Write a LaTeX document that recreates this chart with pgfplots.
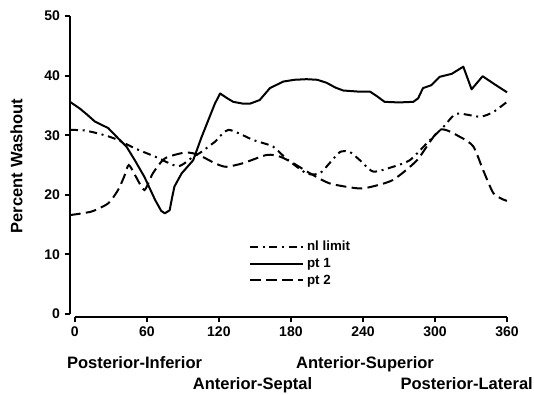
\documentclass[border=0pt]{standalone}
\usepackage{fontspec}
\setmainfont{Liberation Sans}
\usepackage{pgfplots}
\pgfplotsset{compat=1.18}
\begin{document}
\begin{tikzpicture}
\begin{axis}[
  at={(0,0)}, anchor=south west,
  scale only axis,
  width=327.75pt, height=225.75pt,
  xmin=-4, xmax=360, ymin=-0.5, ymax=50,
  axis lines=left,
  axis line style={draw=none},
  every axis plot/.append style={line width=1.5pt},
  xtick={0,60,120,180,240,300,360},
  ytick={0,10,20,30,40,50},
  tick align=outside,
  major tick length=4pt,
  tick style={line width=1.5pt, black},
  /pgf/number format/assume math mode=true,
  ticklabel style={font=\bfseries\fontsize{10.5}{12}\selectfont},
  clip=false,
  legend style={at={(0.40,0.27)}, anchor=north west, draw=none, fill=none,
    font=\bfseries\fontsize{10}{11}\selectfont, row sep=0pt,
    /tikz/every even column/.append style={column sep=6pt}},
  legend cell align=left,
  legend image code/.code={\draw[#1] (0pt,0pt) -- (40pt,0pt);},
]
\draw[line width=2.2pt] (axis cs:-4,0) -- (axis cs:-4,50);
\draw[line width=2.2pt] (axis cs:0,-0.5) -- (axis cs:360,-0.5);
\addplot[black, smooth, tension=0.4, dash pattern=on 6pt off 3.5pt on 1.5pt off 3.5pt] coordinates {
(-4,30.9) (8,30.8) (19.4,30.3) (28,29.8) (36,29.2) (50,27.8) (67,26.4) (86,24.8) (98.6,26.4) (104,27.0) (116.7,28.9) (128,30.9) (148.6,29.2) (165,28.1) (176,26.1) (193,23.6) (204,23.6) (213,25.5) (221,27.2) (229,27.2) (237.5,25.8) (248.6,23.9) (265,24.7) (279,25.8) (293,28.6) (307,31.4) (318,33.6) (337.5,33.1) (348.6,33.9) (360,35.6)
};
\addlegendentry{nl limit}
\addplot[black, line join=round] coordinates {
(-4,35.6) (4,34.5) (10,33.5) (16.7,32.3) (27.8,31.2) (36,29.5) (43,28.1) (50,25.8) (58,23.0) (67,19.1) (72,17.3) (75,16.9) (79,17.4) (81,19.5) (83,21.4) (89,23.6) (98.6,25.8) (105.6,29.7) (116.7,35.3) (121,37.0) (127,36.2) (132,35.6) (140,35.3) (146,35.3) (154,35.9) (162.5,37.9) (173.6,39.0) (183,39.3) (193,39.4) (202,39.3) (209.7,38.8) (217,38.0) (223.6,37.5) (237.5,37.3) (246,37.3) (252,36.5) (258,35.6) (270,35.5) (282,35.6) (286,36.2) (290,37.9) (297,38.4) (304,39.8) (314,40.3) (323.6,41.5) (330.5,37.7) (339.7,39.9) (350,38.5) (360,37.2)
};
\addlegendentry{pt 1}
\addplot[black, smooth, tension=0.4, dash pattern=on 8pt off 4pt] coordinates {
(-4,16.6) (14,17.2) (28,18.6) (36,20.8) (41,23.0) (45,25.0) (51,23.0) (58,20.8) (65,23.6) (75,26.1) (92,27.1) (103,26.7) (116.7,25.3) (126,24.7) (140,25.3) (160,26.7) (171,26.4) (182,25.3) (196,23.6) (212.5,21.9) (235,21.1) (246,21.3) (265,22.5) (285,25.8) (304,30.9) (321,29.7) (332,28.1) (340,24.2) (348.6,20.3) (357,19.2) (360,19.0)
};
\addlegendentry{pt 2}
\end{axis}
\begin{scope}[every node/.style={font=\bfseries\fontsize{12.4}{14}\selectfont, inner sep=0pt}]
\node[anchor=base] at (48.4pt,-38.3pt) {Posterior-Inferior};
\node[anchor=base] at (221.25pt,-38.3pt) {Anterior-Superior};
\node[anchor=base] at (136.9pt,-54.5pt) {Anterior-Septal};
\node[anchor=base] at (297.5pt,-54.5pt) {Posterior-Lateral};
\node[rotate=90] at (-40.1pt,113.25pt) {Percent Washout};
\end{scope}
\pgfresetboundingbox
\path[use as bounding box] (-52.5pt,-57.75pt) rectangle (348pt,237.75pt);
\end{tikzpicture}
\end{document}
